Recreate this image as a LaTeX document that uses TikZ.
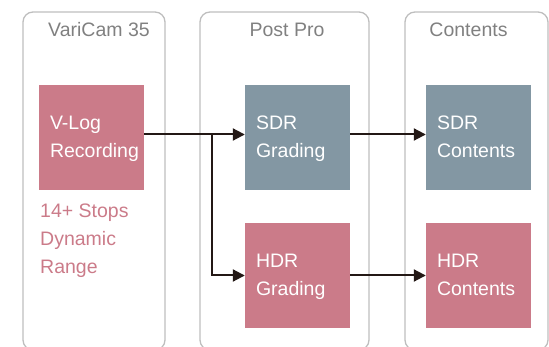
\documentclass[tikz,border=0pt]{standalone}
\usepackage{fontspec}
\setmainfont{Liberation Sans}
\usetikzlibrary{arrows.meta}

\definecolor{vlogpink}{RGB}{203,123,137}
\definecolor{sdrslate}{RGB}{131,151,163}
\definecolor{paneltitle}{RGB}{128,128,128}
\definecolor{panelline}{RGB}{190,190,190}
\definecolor{arrowink}{RGB}{35,24,21}

\tikzstyle{pixfig}=[x=1pt,y=-1pt]
\tikzstyle{panel}=[draw=panelline,line width=1.3pt,rounded corners=10pt]
\tikzstyle{paneltext}=[anchor=base,inner sep=0pt,text=paneltitle,font=\fontsize{19.5}{24}\selectfont]
\tikzstyle{stagebox}=[minimum width=105pt,minimum height=105pt,inner xsep=11pt,inner ysep=0pt,text width=83pt,align=left,text=white,font=\fontsize{19.5}{28}\selectfont\hyphenpenalty10000\relax]
\tikzstyle{rangetext}=[anchor=north west,inner sep=0pt,align=left,text=vlogpink,font=\fontsize{19.5}{28}\selectfont]
\tikzstyle{flow}=[draw=arrowink,line width=2pt,-{Triangle[length=12pt,width=12pt]}]

\begin{document}
\begin{tikzpicture}[style=pixfig]
\useasboundingbox (0,0) rectangle (549,347);

\draw [panel] (23,12) rectangle (165,350);
\draw [panel] (200,12) rectangle (369,350);
\draw [panel] (405,12) rectangle (548,350);

\node[paneltext] (camtitle) at (99,36.7) {VariCam 35};
\node[paneltext] (posttitle) at (287,36.7) {Post Pro};
\node[paneltext] (contitle) at (468.5,36.7) {Contents};

\node[stagebox,fill=vlogpink] (vlog) at (91.5,137.5) {\strut V-Log\\Recording\strut};
\node[stagebox,fill=sdrslate] (sdrgrade) at (297.5,137.5) {\strut SDR\\Grading\strut};
\node[stagebox,fill=vlogpink] (hdrgrade) at (297.5,275.5) {\strut HDR\\Grading\strut};
\node[stagebox,fill=sdrslate] (sdrout) at (478.5,137.5) {\strut SDR\\Contents\strut};
\node[stagebox,fill=vlogpink] (hdrout) at (478.5,275.5) {\strut HDR\\Contents\strut};

\node[rangetext] (stops) at (40,198) {\strut 14+ Stops\\Dynamic\\Range\strut};

\coordinate (split) at (212,134.5);
\draw[flow] (vlog.east |- split) -- (sdrgrade.west |- split);
\draw[flow] (split) |- (hdrgrade.west);
\draw[flow] (sdrgrade.east |- split) -- (sdrout.west |- split);
\draw[flow] (hdrgrade.east) -- (hdrout.west);
\end{tikzpicture}
\end{document}
